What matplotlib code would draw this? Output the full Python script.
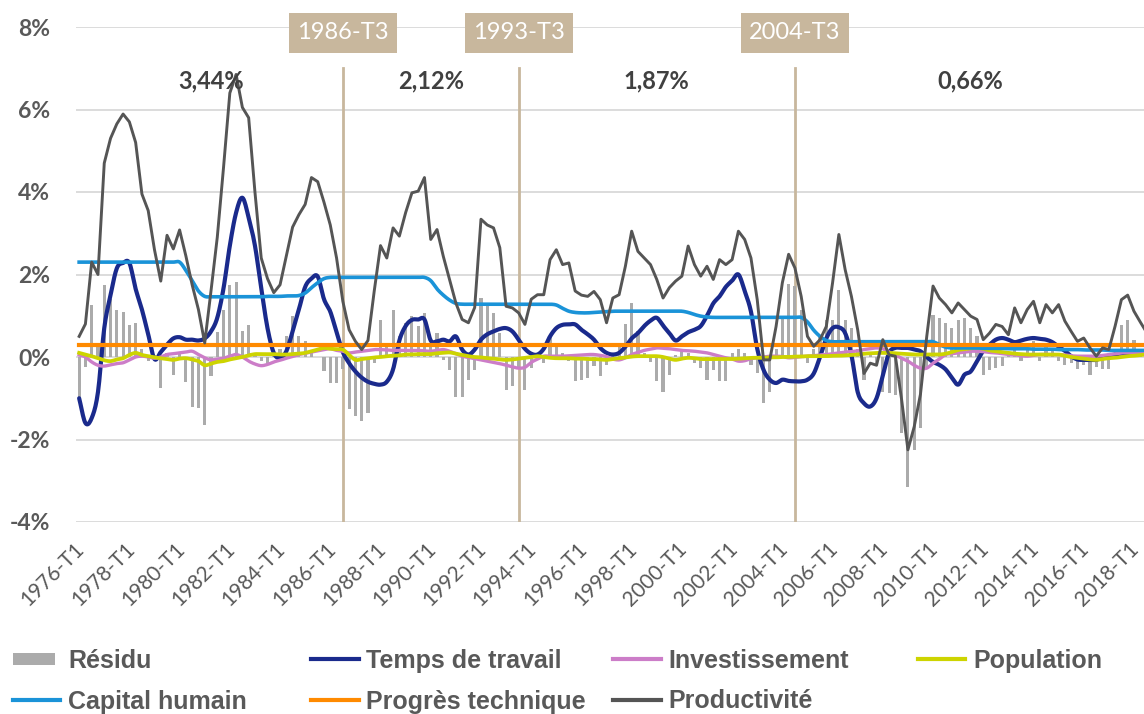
import numpy as np
import matplotlib
matplotlib.use("Agg")
import matplotlib.pyplot as plt
from matplotlib.lines import Line2D
from matplotlib.patches import Rectangle
from matplotlib.legend_handler import HandlerPatch
from matplotlib.font_manager import FontProperties
from matplotlib.transforms import ScaledTranslation

# ---------------------------------------------------------------------------
# Quarterly contributions to productivity growth (%, 1976-T1 onwards)
# ---------------------------------------------------------------------------
residu = [
    -1.00, -0.25, 1.25, 0.30,   1.74, 1.40, 1.15, 1.10,   0.78, 0.82, 0.20, -0.10,
    0.05, -0.75, 0.10, -0.43,   0.10, -0.60, -1.22, -1.24,  -1.66, -0.47, 0.60, 1.15,
    1.74, 1.82, 0.62, 0.78,     0.10, -0.10, -0.20, 0.10,   0.20, 0.50, 0.99, 0.50,
    0.38, 0.10, 0.00, -0.35,    -0.63, -0.63, -0.30, -1.26, -1.44, -1.56, -1.36, -0.15,
    0.90, 0.30, 1.15, 0.50,     0.83, 0.99, 0.74, 1.07,   0.30, 0.58, -0.07, -0.31,
    -0.96, -0.96, -0.55, -0.31, 1.43, 1.23, 1.07, 0.58,   -0.80, -0.71, -0.30, -0.80,
    -0.27, 0.10, -0.15, 0.50,   0.26, 0.10, -0.10, -0.59, -0.55, -0.51, -0.23, -0.47,
    -0.20, 0.10, 0.30, 0.80,    1.31, 0.62, 0.10, -0.11,  -0.59, -0.84, -0.43, 0.05,
    0.20, 0.10, -0.15, -0.27,   -0.55, -0.31, -0.59, -0.59, 0.10, 0.20, 0.10, -0.20,
    -0.39, -1.12, -0.84, 0.20,  1.00, 1.76, 1.72, 1.15,   -0.15, 0.20, 0.50, 0.90,
    0.90, 1.62, 0.90, 0.70,     0.20, -0.55, 0.10, -0.20, -0.84, -0.88, -0.92, -1.85,
    -3.14, -2.25, -1.73, -0.30, 1.03, 0.95, 0.83, 0.70,   0.90, 0.95, 0.70, 0.50,
    -0.43, -0.31, -0.27, -0.23, 0.10, 0.20, -0.10, 0.20,  0.40, -0.10, 0.30, 0.20,
    -0.10, -0.20, -0.15, -0.30, -0.20, -0.43, -0.25, -0.28, -0.30, 0.20, 0.78, 0.90,
    0.42, 0.20, 0.10,
]

temps_de_travail = [
    -1.00, -1.60, -1.48, -0.85,  0.70, 1.50, 2.15, 2.28,   2.28, 1.65, 1.15, 0.55,
    -0.05, 0.12, 0.30, 0.45,     0.48, 0.42, 0.42, 0.40,   0.45, 0.62, 0.95, 1.67,
    2.70, 3.50, 3.86, 3.38,      2.70, 1.67, 0.70, 0.10,   -0.02, 0.14, 0.62, 1.15,
    1.70, 1.90, 1.95, 1.40,      1.10, 0.60, 0.12, -0.15,  -0.35, -0.50, -0.60, -0.65,
    -0.67, -0.60, -0.30, 0.40,   0.75, 0.90, 0.91, 0.91,   0.40, 0.38, 0.42, 0.38,
    0.50, 0.18, 0.06, 0.18,      0.42, 0.55, 0.62, 0.68,   0.70, 0.62, 0.42, 0.20,
    0.08, 0.06, 0.20, 0.50,      0.70, 0.78, 0.79, 0.79,   0.66, 0.55, 0.42, 0.22,
    0.10, 0.06, 0.10, 0.25,      0.45, 0.58, 0.75, 0.88,   0.95, 0.76, 0.58, 0.40,
    0.50, 0.60, 0.66, 0.75,      1.00, 1.30, 1.47, 1.70,   1.85, 2.00, 1.60, 1.10,
    0.20, -0.31, -0.55, -0.63,   -0.55, -0.58, -0.59, -0.59, -0.55, -0.40, 0.00, 0.45,
    0.70, 0.72, 0.58, 0.05,      -0.85, -1.12, -1.20, -1.00, -0.45, 0.10, 0.22, 0.22,
    0.22, 0.18, 0.14, 0.00,      -0.12, -0.19, -0.30, -0.50, -0.67, -0.43, -0.35, -0.10,
    0.15, 0.30, 0.42, 0.46,      0.42, 0.36, 0.40, 0.44,   0.46, 0.44, 0.42, 0.36,
    0.25, 0.15, 0.02, -0.06,     -0.07, -0.07, -0.07, 0.00, 0.03, 0.06, 0.09, 0.10,
    0.10, 0.10, 0.10,
]

investissement = [
    0.05, 0.00, -0.12, -0.20,    -0.22, -0.19, -0.16, -0.14, -0.07, 0.00, 0.02, 0.00,
    -0.03, 0.00, 0.06, 0.08,     0.10, 0.12, 0.14, 0.06,   -0.02, -0.07, -0.05, -0.03,
    0.02, 0.06, 0.00, -0.10,     -0.17, -0.21, -0.18, -0.12, -0.08, -0.03, 0.01, 0.06,
    0.09, 0.12, 0.15, 0.18,      0.20, 0.16, 0.14, 0.10,   0.12, 0.14, 0.16, 0.18,
    0.18, 0.17, 0.16, 0.16,      0.16, 0.16, 0.16, 0.15,   0.14, 0.16, 0.18, 0.14,
    0.08, 0.02, -0.01, -0.04,    -0.07, -0.10, -0.13, -0.16, -0.20, -0.24, -0.27, -0.25,
    -0.13, -0.05, 0.02, 0.02,    0.02, 0.02, 0.03, 0.04,   0.05, 0.06, 0.06, 0.04,
    0.01, -0.05, -0.07, -0.02,   0.06, 0.11, 0.16, 0.19,   0.22, 0.21, 0.20, 0.18,
    0.16, 0.15, 0.14, 0.12,      0.10, 0.06, 0.02, -0.02,  -0.05, -0.10, -0.09, -0.04,
    -0.02, 0.00, 0.02, 0.02,     0.01, -0.02, -0.01, 0.01, 0.02, 0.03, 0.05, 0.06,
    0.08, 0.10, 0.12, 0.13,      0.15, 0.18, 0.20, 0.22,   0.20, 0.12, 0.05, -0.03,
    -0.10, -0.20, -0.27, -0.27,  -0.15, -0.05, 0.06, 0.08, 0.10, 0.12, 0.14, 0.14,
    0.13, 0.11, 0.10, 0.08,      0.06, 0.05, 0.03, 0.02,   0.04, 0.06, 0.06, 0.06,
    0.06, 0.05, 0.03, 0.02,      0.02, 0.02, 0.02, 0.04,   0.06, 0.08, 0.10, 0.10,
    0.10, 0.10, 0.10,
]

population = [
    0.10, 0.06, 0.02, -0.03,     -0.08, -0.10, -0.06, -0.03, 0.05, 0.10, 0.05, 0.02,
    -0.01, -0.03, -0.05, -0.07,  -0.04, -0.03, -0.06, -0.10, -0.20, -0.16, -0.12, -0.10,
    -0.06, -0.03, 0.00, 0.04,    0.07, 0.07, 0.07, 0.07,   0.06, 0.06, 0.07, 0.08,
    0.10, 0.14, 0.18, 0.22,      0.20, 0.19, 0.18, 0.05,   -0.07, -0.05, -0.03, -0.01,
    0.00, 0.02, 0.03, 0.04,      0.06, 0.06, 0.07, 0.07,   0.07, 0.09, 0.10, 0.11,
    0.08, 0.05, 0.02, 0.00,      -0.01, -0.03, -0.04, -0.06, -0.07, -0.06, -0.04, -0.02,
    0.00, 0.02, 0.00, -0.02,     -0.03, -0.03, -0.03, -0.04, -0.04, -0.05, -0.05, -0.06,
    -0.07, -0.05, -0.03, -0.01,  0.01, 0.02, 0.02, 0.02,   0.02, 0.00, -0.04, -0.07,
    -0.04, -0.02, -0.03, -0.05,  -0.05, -0.05, -0.05, -0.05, -0.05, -0.04, -0.03, -0.02,
    -0.02, -0.02, -0.01, -0.01,  0.00, 0.00, 0.01, 0.01,   0.02, 0.02, 0.02, 0.02,
    0.03, 0.03, 0.04, 0.05,      0.06, 0.08, 0.09, 0.10,   0.10, 0.10, 0.09, 0.08,
    0.07, 0.06, 0.06, 0.06,      0.06, 0.06, 0.08, 0.12,   0.17, 0.19, 0.21, 0.22,
    0.20, 0.16, 0.14, 0.12,      0.10, 0.08, 0.07, 0.06,   0.06, 0.06, 0.06, 0.06,
    0.06, 0.03, 0.00, -0.02,     -0.04, -0.06, -0.07, -0.05, -0.03, -0.02, 0.00, 0.02,
    0.03, 0.05, 0.06,
]

capital_humain = [
    2.30, 2.30, 2.30, 2.30,      2.30, 2.30, 2.30, 2.30,   2.30, 2.30, 2.30, 2.30,
    2.30, 2.30, 2.30, 2.30,      2.30, 2.10, 1.85, 1.60,   1.47, 1.46, 1.46, 1.46,
    1.46, 1.46, 1.46, 1.46,      1.46, 1.46, 1.47, 1.47,   1.47, 1.48, 1.48, 1.49,
    1.55, 1.68, 1.80, 1.90,      1.93, 1.93, 1.93, 1.93,   1.93, 1.93, 1.93, 1.93,
    1.93, 1.93, 1.93, 1.93,      1.93, 1.93, 1.93, 1.93,   1.85, 1.65, 1.50, 1.38,
    1.30, 1.28, 1.28, 1.28,      1.28, 1.28, 1.28, 1.28,   1.28, 1.28, 1.28, 1.28,
    1.28, 1.28, 1.28, 1.28,      1.26, 1.18, 1.11, 1.08,   1.07, 1.07, 1.08, 1.09,
    1.10, 1.11, 1.11, 1.11,      1.11, 1.11, 1.11, 1.11,   1.11, 1.11, 1.11, 1.11,
    1.11, 1.08, 1.03, 0.99,      0.97, 0.96, 0.96, 0.96,   0.96, 0.96, 0.96, 0.96,
    0.96, 0.96, 0.96, 0.96,      0.96, 0.96, 0.96, 0.96,   0.85, 0.65, 0.50, 0.40,
    0.37, 0.37, 0.37, 0.37,      0.37, 0.37, 0.37, 0.37,   0.37, 0.37, 0.37, 0.37,
    0.37, 0.37, 0.37, 0.37,      0.37, 0.30, 0.24, 0.22,   0.22, 0.22, 0.22, 0.22,
    0.21, 0.21, 0.21, 0.21,      0.20, 0.20, 0.20, 0.20,   0.19, 0.19, 0.19, 0.19,
    0.18, 0.18, 0.18, 0.18,      0.17, 0.17, 0.17, 0.17,   0.16, 0.16, 0.16, 0.16,
    0.16, 0.16, 0.16,
]

progres_technique = [0.28] * len(capital_humain)

productivite = [
    0.50, 0.80, 2.30, 2.00,      4.70, 5.30, 5.65, 5.89,   5.70, 5.20, 3.95, 3.55,
    2.60, 1.84, 2.95, 2.62,      3.08, 2.45, 1.75, 1.15,   0.34, 1.60, 2.90, 4.60,
    6.40, 6.85, 6.05, 5.80,      4.00, 2.40, 1.90, 1.56,   1.75, 2.45, 3.15, 3.45,
    3.70, 4.35, 4.25, 3.75,      3.20, 2.40, 1.35, 0.66,   0.38, 0.18, 0.40, 1.60,
    2.70, 2.40, 3.13, 2.93,      3.50, 3.98, 4.02, 4.35,   2.85, 3.09, 2.44, 1.88,
    1.31, 0.91, 0.83, 1.20,      3.34, 3.20, 3.13, 2.65,   1.23, 1.19, 1.07, 0.79,
    1.40, 1.51, 1.51, 2.36,      2.60, 2.24, 2.28, 1.60,   1.50, 1.47, 1.59, 1.39,
    0.83, 1.43, 1.51, 2.20,      3.05, 2.56, 2.40, 2.24,   1.88, 1.43, 1.68, 1.84,
    1.96, 2.69, 2.24, 1.96,      2.20, 1.88, 2.36, 2.24,   2.36, 3.05, 2.85, 2.40,
    1.39, -0.07, -0.07, 0.74,    1.80, 2.49, 2.16, 1.47,   0.50, 0.26, 0.42, 0.74,
    1.80, 2.97, 2.12, 1.47,      0.66, -0.40, -0.15, -0.20, 0.42, 0.05, 0.02, -1.04,
    -2.25, -1.69, -0.90, 0.50,   1.72, 1.43, 1.27, 1.07,   1.31, 1.15, 0.99, 0.91,
    0.42, 0.58, 0.79, 0.74,      0.54, 1.19, 0.83, 1.15,   1.35, 0.83, 1.27, 1.07,
    1.27, 0.87, 0.62, 0.38,      0.46, 0.22, 0.02, 0.22,   0.18, 0.75, 1.39, 1.50,
    1.11, 0.85, 0.60,
]

# Sub-period breaks and average productivity growth over each sub-period
break_labels = ["1986-T3", "1993-T3", "2004-T3"]
period_means = ["3,44%", "2,12%", "1,87%", "0,66%"]

# ---------------------------------------------------------------------------
n = len(productivite)
x = np.arange(n)
quarters = [f"{y}-T{q}" for y in range(1976, 2020) for q in range(1, 5)][:n]
tick_pos = list(range(0, n, 8))
break_pos = [quarters.index(b) for b in break_labels]
bounds = [0] + break_pos + [n - 1]
mean_pos = [(bounds[i] + bounds[i + 1]) / 2 for i in range(len(period_means))]


def smooth(ys, k=10):
    """Catmull-Rom curve through evenly spaced points."""
    ys = np.asarray(ys, float)
    p = np.concatenate([[2 * ys[0] - ys[1]], ys, [2 * ys[-1] - ys[-2]]])
    t = np.linspace(0, 1, k, endpoint=False)
    xs_out, ys_out = [], []
    for i in range(1, len(p) - 2):
        p0, p1, p2, p3 = p[i - 1], p[i], p[i + 1], p[i + 2]
        y = 0.5 * (2 * p1 + (-p0 + p2) * t + (2 * p0 - 5 * p1 + 4 * p2 - p3) * t ** 2
                   + (-p0 + 3 * p1 - 3 * p2 + p3) * t ** 3)
        xs_out.append(i - 1 + t)
        ys_out.append(y)
    xs_out.append([len(ys) - 1])
    ys_out.append([ys[-1]])
    return np.concatenate(xs_out), np.concatenate(ys_out)


C_RES = "#ABABAB"
C_TRAV = "#1A2A8C"
C_INV = "#CC7DC8"
C_POP = "#CDD400"
C_CAP = "#1A93D8"
C_PROG = "#FF8A00"
C_PROD = "#555555"
C_TAN = "#C8B79D"
C_TXT = "#595959"

W, H = 1144, 714
fig = plt.figure(figsize=(W / 100, H / 100), dpi=100)
ax = fig.add_axes([76 / W, 1 - 522 / H, (W - 76) / W, (522 - 27) / H])

ax.bar(x, residu, width=0.5, color=C_RES, zorder=2)

xs, ys = smooth(temps_de_travail)
ax.plot(xs, ys, color=C_TRAV, lw=3.0, zorder=3, solid_capstyle="round")
xs, ys = smooth(investissement)
ax.plot(xs, ys, color=C_INV, lw=2.4, zorder=4)
xs, ys = smooth(population)
ax.plot(xs, ys, color=C_POP, lw=2.7, zorder=5)
xs, ys = smooth(capital_humain)
ax.plot(xs, ys, color=C_CAP, lw=2.6, zorder=6)
ax.plot(x, progres_technique, color=C_PROG, lw=3.0, zorder=7)
ax.plot(x, productivite, color=C_PROD, lw=2.1, zorder=8)

ax.set_xlim(-0.5, 169.6)
ax.set_ylim(-4, 8)
ax.set_yticks(np.arange(-4, 9, 2))
ax.set_yticklabels([f"{v}%" for v in range(-4, 9, 2)])
ax.grid(axis="y", color="#D9D9D9", lw=1.3, zorder=0)
ax.set_axisbelow(True)
for s in ax.spines.values():
    s.set_visible(False)

ax.tick_params(axis="y", length=0, pad=18.5, labelcolor=C_TXT)
for lbl in ax.get_yticklabels():
    lbl.set_fontfamily("Lato")
    lbl.set_fontweight("bold")
    lbl.set_fontsize(16.5)

ax.set_xticks(tick_pos)
ax.set_xticklabels([quarters[i] for i in tick_pos])
ax.tick_params(axis="x", length=0, pad=12, labelcolor=C_TXT)
shift = ScaledTranslation(-5 / 100, 0, fig.dpi_scale_trans)
for lbl in ax.get_xticklabels():
    lbl.set_fontfamily("Lato")
    lbl.set_fontsize(15)
    lbl.set_rotation(45)
    lbl.set_ha("right")
    lbl.set_rotation_mode("anchor")
    lbl.set_transform(lbl.get_transform() + shift)

# Break markers with their date tags
for pos, lab in zip(break_pos, break_labels):
    ax.plot([pos, pos], [-4, 7.0], color=C_TAN, lw=2.0, zorder=1)
    ax.add_patch(Rectangle((pos - 8.6, 7.37), 17.2, 0.97, facecolor=C_TAN,
                           edgecolor="none", clip_on=False, zorder=9))
    ax.text(pos, 7.86, lab, ha="center", va="center", color="white",
            fontsize=17, family="Lato", zorder=10, clip_on=False)

for pos, lab in zip(mean_pos, period_means):
    ax.text(pos, 6.7, lab, ha="center", va="center", color="#404040",
            fontsize=17, family="Lato", fontweight="bold", zorder=10)

# Legend, laid out as four columns
legend_font = FontProperties(family="Liberation Sans", weight="bold", size=18)


def bar_handle(legend, orig_handle, xdescent, ydescent, width, height, fontsize):
    return Rectangle((-xdescent, -ydescent + height * 0.15), width * 0.88,
                     height * 0.7)


h_res = Rectangle((0, 0), 1, 1, facecolor=C_RES, edgecolor="none")
columns = [
    ([h_res, Line2D([], [], color=C_CAP, lw=3)], ["Résidu", "Capital humain"], 13),
    ([Line2D([], [], color=C_TRAV, lw=3), Line2D([], [], color=C_PROG, lw=3)],
     ["Temps de travail", "Progrès technique"], 311),
    ([Line2D([], [], color=C_INV, lw=3), Line2D([], [], color=C_PROD, lw=3)],
     ["Investissement", "Productivité"], 613),
    ([Line2D([], [], color=C_POP, lw=3)], ["Population"], 918),
]
for handles, labels, xpx in columns:
    leg = fig.legend(handles, labels, loc="upper left",
                     bbox_to_anchor=(xpx / W, 1 - 649 / H), frameon=False,
                     borderpad=0, borderaxespad=0, handlelength=1.9,
                     handletextpad=0.3, labelspacing=0.66, prop=legend_font,
                     labelcolor=C_TXT,
                     handler_map={Rectangle: HandlerPatch(patch_func=bar_handle)})

fig.savefig("out.png", dpi=100)
